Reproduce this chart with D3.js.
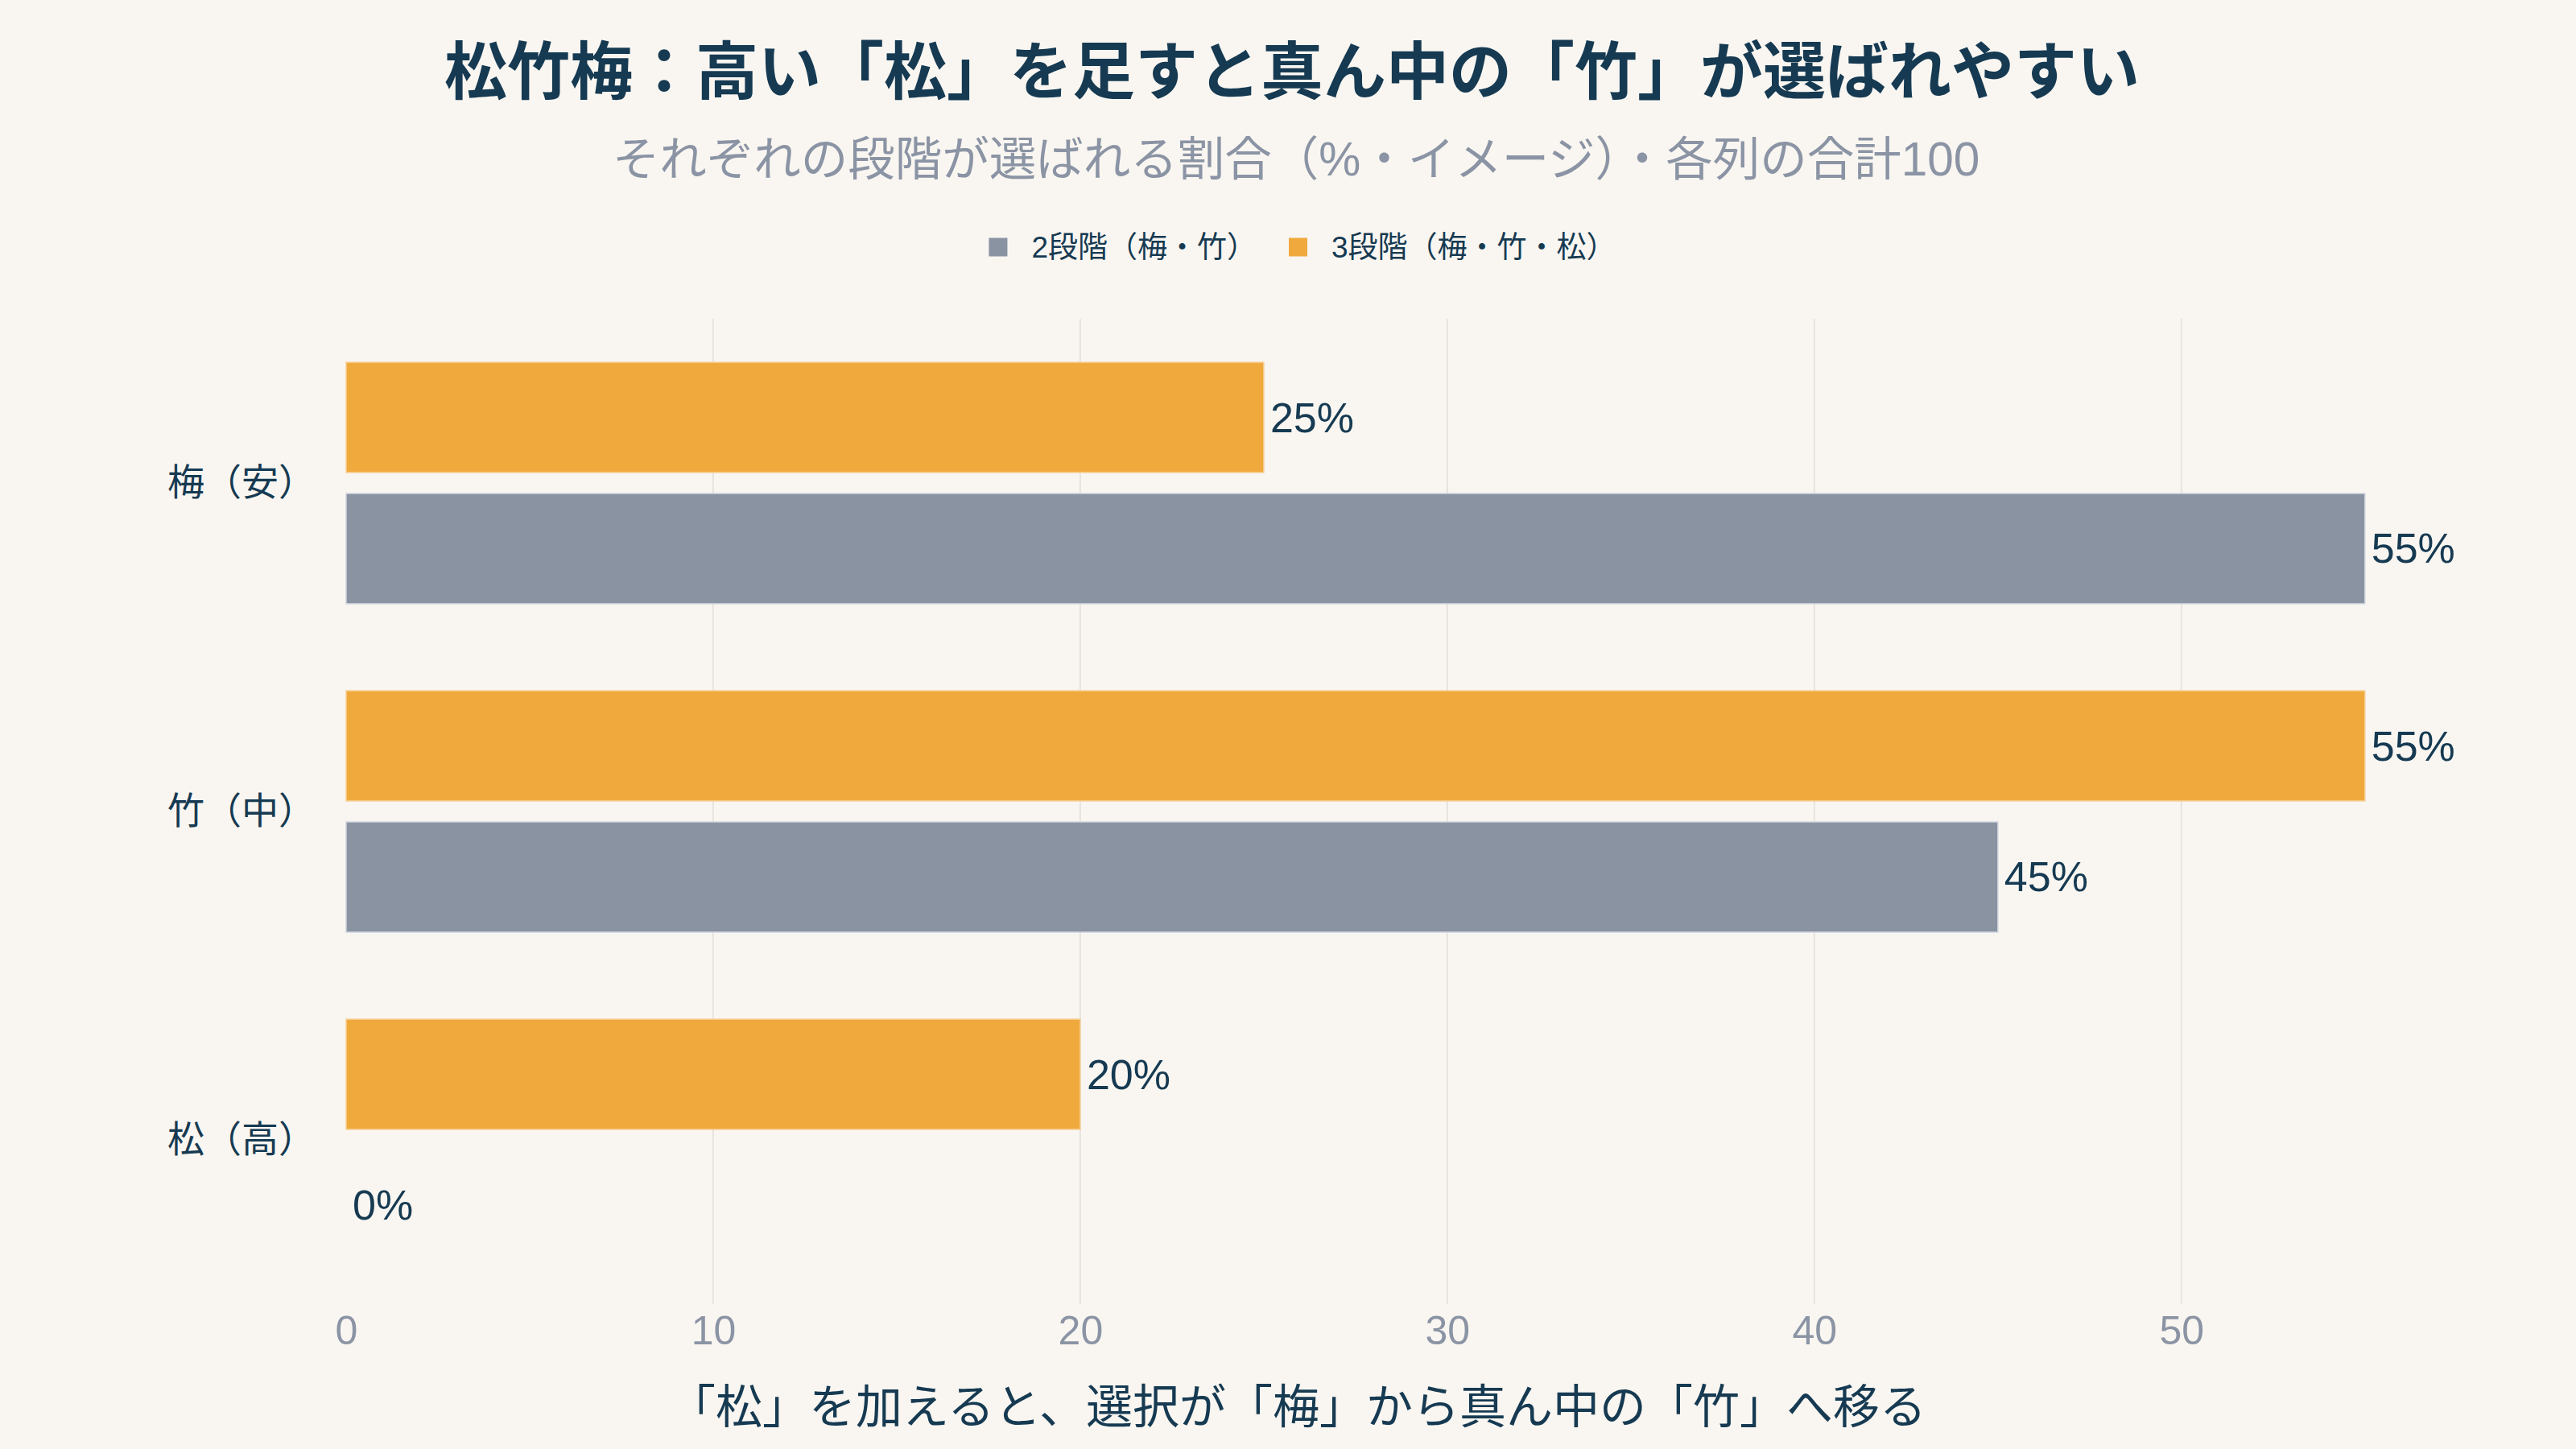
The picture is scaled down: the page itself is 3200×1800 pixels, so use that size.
<!DOCTYPE html>
<html>
<head>
<meta charset="utf-8">
<script src="https://cdn.jsdelivr.net/npm/d3@7"></script>
<style>
  html, body { margin: 0; padding: 0; background: #f9f6f1; }
  svg { display: block; }
  text { font-family: "Liberation Sans", "Noto Sans CJK JP", sans-serif; }
</style>
</head>
<body>
<svg id="chart" width="3200" height="1800"></svg>
<script>
// ---- data ----
const categories = ["梅（安）", "竹（中）", "松（高）"];
const seriesNames = ["2段階（梅・竹）", "3段階（梅・竹・松）"];
const twoTier = [55, 45, 0];
const threeTier = [25, 55, 20];
const xTicks = [0, 10, 20, 30, 40, 50];
const titleText = "松竹梅：高い「松」を足すと真ん中の「竹」が選ばれやすい";
const subtitleText = "それぞれの段階が選ばれる割合（%・イメージ）・各列の合計100";
const xTitleText = "「松」を加えると、選択が「梅」から真ん中の「竹」へ移る";

// ---- styles ----
const colors = { s2: "#8a93a2", s3: "#f0a93c" };
const navy = "#163a52";
const grayText = "#8b94a4";
const FONT = "'Liberation Sans', 'Noto Sans CJK JP', sans-serif";

const W = 3200, H = 1800;
const plot = { left: 430, right: 3070, top: 396, bottom: 1620 };

const svg = d3.select("#chart");
svg.append("rect").attr("width", W).attr("height", H).attr("fill", "#f9f6f1");

const x = d3.scaleLinear().domain([0, 57.9]).range([plot.left, plot.right]);
const y = d3.scaleBand().domain(categories).range([plot.top, plot.bottom])
  .paddingInner(0.265).paddingOuter(0.1325);
const sub = d3.scaleBand().domain(["s3", "s2"]).range([0, y.bandwidth()]).paddingInner(0.16);

// gridlines
svg.append("g").selectAll("line").data(xTicks.filter(d => d > 0)).join("line")
  .attr("x1", d => x(d)).attr("x2", d => x(d))
  .attr("y1", plot.top).attr("y2", plot.bottom)
  .attr("stroke", "#e7e3dd").attr("stroke-width", 2);

// bars
const rows = categories.map((c, i) => ({ cat: c, s2: twoTier[i], s3: threeTier[i] }));
const barData = [];
rows.forEach(r => {
  barData.push({ cat: r.cat, key: "s3", v: r.s3 });
  barData.push({ cat: r.cat, key: "s2", v: r.s2 });
});

const gBars = svg.append("g");
gBars.selectAll("rect").data(barData).join("rect")
  .attr("x", x(0))
  .attr("y", d => y(d.cat) + sub(d.key))
  .attr("width", d => x(d.v) - x(0))
  .attr("height", sub.bandwidth())
  .attr("fill", d => colors[d.key])
  .attr("stroke", d => d.key === "s3" ? "#f6cf95" : "#cdd4de")
  .attr("stroke-width", 1.5);

gBars.selectAll("text").data(barData).join("text")
  .attr("x", d => x(d.v) + 8)
  .attr("y", d => y(d.cat) + sub(d.key) + sub.bandwidth() / 2)
  .attr("dominant-baseline", "central")
  .attr("font-size", 52)
  .attr("fill", navy)
  .text(d => d.v + "%");

// x axis
const xAxis = svg.append("g").attr("transform", `translate(0,${plot.bottom})`)
  .call(d3.axisBottom(x).tickValues(xTicks).tickSize(0).tickPadding(14).tickFormat(d3.format("d")));
xAxis.select(".domain").remove();
xAxis.selectAll("text").attr("font-size", 50).attr("fill", grayText)
  .attr("font-family", FONT);

// y axis
const yAxis = svg.append("g").attr("transform", `translate(${plot.left},0)`)
  .call(d3.axisLeft(y).tickSize(0).tickPadding(38));
yAxis.select(".domain").remove();
yAxis.selectAll("text").attr("font-size", 46).attr("fill", navy)
  .attr("font-family", FONT);

// title & subtitle
svg.append("text").attr("x", 1605).attr("y", 90)
  .attr("text-anchor", "middle").attr("dominant-baseline", "central")
  .attr("font-size", 78).attr("font-weight", 700).attr("fill", navy)
  .text(titleText);
svg.append("text").attr("x", 1610).attr("y", 197)
  .attr("text-anchor", "middle").attr("dominant-baseline", "central")
  .attr("font-size", 58.5).attr("fill", grayText)
  .text(subtitleText);

// x-axis title
svg.append("text").attr("x", 1612).attr("y", 1747)
  .attr("text-anchor", "middle").attr("dominant-baseline", "central")
  .attr("font-size", 58).attr("fill", navy)
  .text(xTitleText);

// legend
const legend = svg.append("g");
const legendItems = [
  { name: seriesNames[0], color: colors.s2 },
  { name: seriesNames[1], color: colors.s3 }
];
const sq = 23, gapSqText = 30, gapItems = 40, legendY = 307;
let cursor = 0;
const items = legend.selectAll("g").data(legendItems).join("g");
items.append("rect").attr("width", sq).attr("height", sq).attr("y", legendY - sq / 2)
  .attr("fill", d => d.color);
items.append("text").attr("x", sq + gapSqText).attr("y", legendY)
  .attr("dominant-baseline", "central").attr("font-size", 37).attr("fill", navy)
  .text(d => d.name);
items.each(function() {
  const g = d3.select(this);
  g.attr("transform", `translate(${cursor},0)`);
  const tw = g.select("text").node().getComputedTextLength();
  cursor += sq + gapSqText + tw + gapItems;
});
const totalW = cursor - gapItems;
legend.attr("transform", `translate(${1618 - totalW / 2},0)`);
</script>
</body>
</html>
